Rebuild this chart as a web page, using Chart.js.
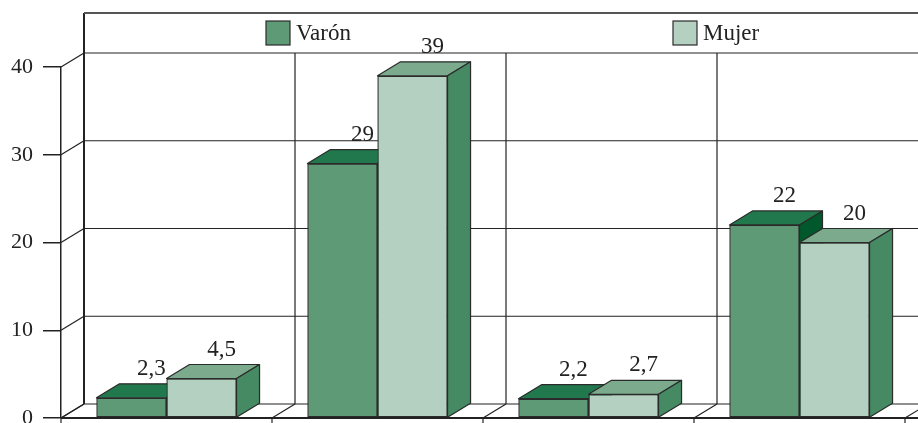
<!DOCTYPE html>
<html lang="es">
<head>
<meta charset="UTF-8">
<title>Varón / Mujer</title>
<script src="https://cdn.jsdelivr.net/npm/chart.js"></script>
<style>
  body { margin: 0; background: #fff; }
  canvas { display: block; }
</style>
</head>
<body>
<canvas id="myChart" width="918" height="423"></canvas>
<script>
// data
const categories = ['1', '2', '3', '4'];
const varon = [2.3, 29, 2.2, 22];
const mujer = [4.5, 39, 2.7, 20];
const yTicks = [0, 10, 20, 30, 40];
const seriesNames = ['Varón', 'Mujer'];

// colours: front, top, side
const shades = [
  { front: '#5f9a77', top: '#21784d', side: '#00582b' },
  { front: '#b4d0c0', top: '#7bab8c', side: '#458a63' }
];

// depth of the 3d effect
const DX = 23, DY = -14;
const WALL_TOP = 13;
const LEGEND_X = [266, 673];
const INK = '#222';
const SERIF = '"Liberation Serif", "DejaVu Serif", serif';
const FONT = '23px ' + SERIF;

function line(ctx, x1, y1, x2, y2) {
  ctx.beginPath();
  ctx.moveTo(x1, y1);
  ctx.lineTo(x2, y2);
  ctx.stroke();
}

function poly(ctx, pts, fill) {
  ctx.beginPath();
  ctx.moveTo(pts[0][0], pts[0][1]);
  for (let i = 1; i < pts.length; i++) ctx.lineTo(pts[i][0], pts[i][1]);
  ctx.closePath();
  ctx.fillStyle = fill;
  ctx.fill();
  ctx.stroke();
}

const box3d = {
  id: 'box3d',
  beforeDatasetsDraw(chart) {
    const ctx = chart.ctx, area = chart.chartArea, ys = chart.scales.y;
    const n = categories.length, step = area.width / n;
    const y0 = ys.getPixelForValue(0), yMax = ys.getPixelForValue(yTicks[yTicks.length - 1]);
    ctx.save();
    ctx.strokeStyle = INK;
    ctx.lineWidth = 1.2;
    // back wall grid + side diagonals
    yTicks.forEach(v => {
      const y = ys.getPixelForValue(v);
      line(ctx, area.left + DX, y + DY, chart.width, y + DY);
      line(ctx, area.left, y, area.left + DX, y + DY);
    });
    for (let k = 1; k <= n; k++) {
      const xb = area.left + k * step + DX;
      line(ctx, xb, yMax + DY, xb, y0 + DY);
    }
    // floor diagonals
    for (let k = 0; k <= n; k++) {
      const xf = area.left + k * step;
      line(ctx, xf, y0, xf + DX, y0 + DY);
    }
    // wall frame
    ctx.lineWidth = 2;
    line(ctx, area.left + DX, WALL_TOP, area.left + DX, y0 + DY);
    ctx.strokeStyle = '#555';
    line(ctx, area.left + DX, WALL_TOP, chart.width, WALL_TOP);
    ctx.restore();
  },
  afterDatasetsDraw(chart) {
    const ctx = chart.ctx, area = chart.chartArea, ys = chart.scales.y;
    const y0 = ys.getPixelForValue(0);
    const step = area.width / categories.length;
    ctx.save();
    // boxes, first series first so the second one sits in front of it
    ctx.lineJoin = 'round';
    chart.data.datasets.forEach((ds, i) => {
      const c = shades[i];
      chart.getDatasetMeta(i).data.forEach(el => {
        el.draw(ctx);
        const p = el.getProps(['x', 'y', 'base', 'width'], true);
        const l = p.x - p.width / 2, r = p.x + p.width / 2;
        ctx.strokeStyle = '#2b2b2b';
        ctx.lineWidth = 1.2;
        poly(ctx, [[l, p.y], [l + DX, p.y + DY], [r + DX, p.y + DY], [r, p.y]], c.top);
        poly(ctx, [[r, p.y], [r + DX, p.y + DY], [r + DX, p.base + DY], [r, p.base]], c.side);
      });
    });
    // front floor edge
    ctx.strokeStyle = INK;
    ctx.lineWidth = 2.2;
    line(ctx, area.left, y0, chart.width, y0);
    ctx.lineWidth = 1.2;
    for (let k = 0; k <= categories.length; k++) {
      const xf = area.left + k * step;
      line(ctx, xf, y0, xf, y0 + 6);
    }
    // value labels
    ctx.font = FONT;
    ctx.fillStyle = INK;
    ctx.textAlign = 'center';
    ctx.textBaseline = 'alphabetic';
    chart.data.datasets.forEach((ds, i) => {
      chart.getDatasetMeta(i).data.forEach((el, j) => {
        const p = el.getProps(['x', 'y'], true);
        ctx.fillText(String(ds.data[j]).replace('.', ','), p.x + 20, p.y + DY - 9);
      });
    });
    ctx.restore();
  },
  afterDraw(chart) {
    const ctx = chart.ctx;
    ctx.save();
    ctx.font = FONT;
    ctx.textBaseline = 'middle';
    ctx.textAlign = 'left';
    ctx.strokeStyle = '#2b2b2b';
    ctx.lineWidth = 1.2;
    seriesNames.forEach((name, i) => {
      const x = LEGEND_X[i];
      ctx.fillStyle = shades[i].front;
      ctx.fillRect(x, 21, 24, 24);
      ctx.strokeRect(x, 21, 24, 24);
      ctx.fillStyle = INK;
      ctx.fillText(name, x + 30, 34);
    });
    ctx.restore();
  }
};

const data = {
  labels: categories,
  datasets: [
    { label: seriesNames[0], data: varon, backgroundColor: shades[0].front },
    { label: seriesNames[1], data: mujer, backgroundColor: shades[1].front }
  ].map(ds => Object.assign(ds, {
    borderColor: '#2b2b2b',
    borderWidth: 1.2,
    borderSkipped: false,
    categoryPercentage: 0.664,
    barPercentage: 1
  }))
};

const config = {
  type: 'bar',
  data: data,
  plugins: [box3d],
  options: {
    responsive: false,
    animation: false,
    layout: { autoPadding: false, padding: { left: 0, top: 67, right: 13, bottom: 5 } },
    plugins: { legend: { display: false }, tooltip: { enabled: false } },
    scales: {
      x: { display: false },
      y: {
        min: 0,
        max: 40,
        afterFit(scale) {
          scale.width = 61;
          scale.paddingTop = 0;
          scale.paddingBottom = 0;
        },
        afterBuildTicks(scale) { scale.ticks = yTicks.map(v => ({ value: v })); },
        ticks: { padding: 10, color: INK, font: { family: SERIF, size: 22 } },
        grid: { drawOnChartArea: false, drawTicks: true, tickLength: 18, color: INK, lineWidth: 1.5 },
        border: { display: true, color: INK, width: 1.5 }
      }
    }
  }
};

const barchart = new Chart(document.getElementById('myChart'), config);
</script>
</body>
</html>
